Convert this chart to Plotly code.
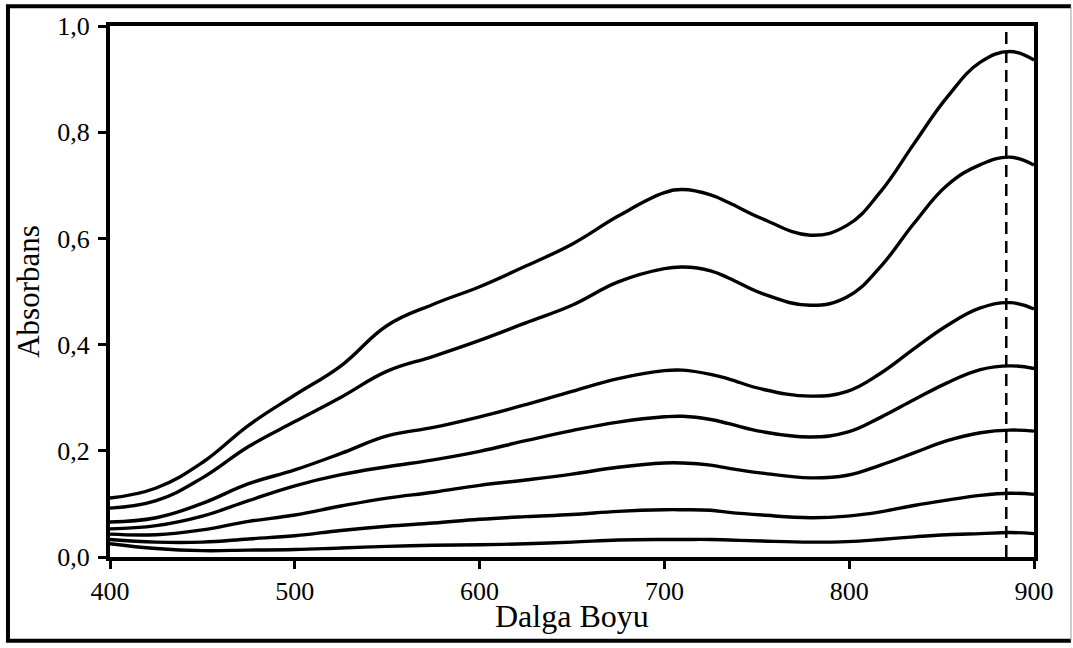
import plotly.graph_objects as go

# Wavelengths (nm)
wavelength = [400, 425, 450, 475, 500, 525, 550, 575, 600, 625, 650, 675, 700,
              710, 725, 735, 753, 779, 799, 817, 835, 853, 871, 887, 900]

# Absorbance series (top to bottom)
abs_1 = [0.111, 0.130, 0.178, 0.248, 0.305, 0.360, 0.436, 0.476, 0.509, 0.548, 0.589, 0.642, 0.686,
         0.692, 0.682, 0.667, 0.637, 0.606, 0.625, 0.688, 0.778, 0.866, 0.932, 0.952, 0.936]
abs_2 = [0.092, 0.106, 0.149, 0.208, 0.255, 0.301, 0.350, 0.378, 0.408, 0.441, 0.474, 0.518, 0.543,
         0.546, 0.539, 0.525, 0.496, 0.474, 0.490, 0.547, 0.628, 0.700, 0.739, 0.753, 0.738]
abs_3 = [0.066, 0.074, 0.101, 0.138, 0.164, 0.195, 0.228, 0.244, 0.264, 0.287, 0.312, 0.336, 0.351,
         0.352, 0.344, 0.335, 0.316, 0.303, 0.312, 0.346, 0.392, 0.436, 0.469, 0.479, 0.467]
abs_4 = [0.053, 0.059, 0.077, 0.106, 0.134, 0.155, 0.170, 0.183, 0.199, 0.219, 0.238, 0.254, 0.264,
         0.265, 0.259, 0.251, 0.236, 0.226, 0.235, 0.263, 0.296, 0.328, 0.353, 0.360, 0.355]
abs_5 = [0.043, 0.042, 0.051, 0.067, 0.079, 0.096, 0.111, 0.122, 0.135, 0.145, 0.156, 0.169, 0.177,
         0.177, 0.173, 0.167, 0.158, 0.149, 0.154, 0.173, 0.196, 0.219, 0.234, 0.239, 0.237]
abs_6 = [0.033, 0.028, 0.028, 0.034, 0.040, 0.050, 0.058, 0.064, 0.071, 0.076, 0.080, 0.086, 0.089,
         0.089, 0.088, 0.084, 0.079, 0.074, 0.077, 0.085, 0.097, 0.107, 0.116, 0.120, 0.118]
abs_7 = [0.025, 0.016, 0.012, 0.013, 0.014, 0.017, 0.020, 0.022, 0.023, 0.025, 0.028, 0.032, 0.033,
         0.033, 0.033, 0.032, 0.030, 0.028, 0.029, 0.033, 0.038, 0.042, 0.044, 0.046, 0.044]

series = [abs_1, abs_2, abs_3, abs_4, abs_5, abs_6, abs_7]

x_ticks = [400, 500, 600, 700, 800, 900]
y_ticks = [0.0, 0.2, 0.4, 0.6, 0.8, 1.0]
peak_wavelength = 885
x_title = "Dalga Boyu"
y_title = "Absorbans"

FONT = "Liberation Serif, Times New Roman, serif"

fig = go.Figure()
for ys in series:
    fig.add_trace(go.Scatter(
        x=wavelength, y=ys, mode="lines",
        line=dict(color="black", width=3.4, shape="spline", smoothing=1.2),
        showlegend=False, hoverinfo="skip"))

# dashed vertical marker
fig.add_shape(type="line", xref="x", yref="y",
              x0=peak_wavelength, x1=peak_wavelength, y0=0, y1=1.0,
              line=dict(color="black", width=2.5, dash="12px,7px"))

# outer frame (paper coords)
frame = dict(color="black", width=4)
fig.add_shape(type="line", xref="paper", yref="paper", x0=-0.1104, x1=-0.1104, y0=-0.1576, y1=1.0373, line=frame)
fig.add_shape(type="line", xref="paper", yref="paper", x0=-0.1126, x1=1.040, y0=1.0373, y1=1.0373, line=frame)
fig.add_shape(type="line", xref="paper", yref="paper", x0=-0.1126, x1=1.040, y0=-0.1576, y1=-0.1576, line=frame)
fig.add_shape(type="line", xref="paper", yref="paper", x0=1.040, x1=1.040, y0=-0.1576, y1=1.0373,
              line=dict(color="#9a9a9a", width=1))

# x-axis title as annotation for precise placement
fig.add_annotation(text=x_title, xref="paper", yref="paper", x=0.5, y=-0.0728,
                   xanchor="center", yanchor="top", showarrow=False,
                   font=dict(family=FONT, size=32, color="black"))

fig.update_layout(
    width=1073, height=648,
    margin=dict(l=110, r=39, t=21, b=91),
    paper_bgcolor="white", plot_bgcolor="white",
    separators=",.",
    font=dict(family=FONT, color="black", size=26),
    xaxis=dict(
        range=[400, 900], tickvals=x_ticks,
        showline=True, linewidth=4, linecolor="black", mirror=True,
        ticks="outside", ticklen=8, tickwidth=3, tickcolor="black",
        showgrid=False, zeroline=False,
        tickfont=dict(family=FONT, size=26, color="black"),
        ticklabelstandoff=0,
    ),
    yaxis=dict(
        range=[0, 1.0], tickvals=y_ticks, tickformat=".1f",
        showline=True, linewidth=4, linecolor="black", mirror=True,
        ticks="outside", ticklen=8, tickwidth=3, tickcolor="black",
        showgrid=False, zeroline=False,
        tickfont=dict(family=FONT, size=26, color="black"),
        ticklabelstandoff=3,
        title=dict(text=y_title, font=dict(family=FONT, size=31, color="black"), standoff=9),
    ),
)

fig.write_html("out.html")
